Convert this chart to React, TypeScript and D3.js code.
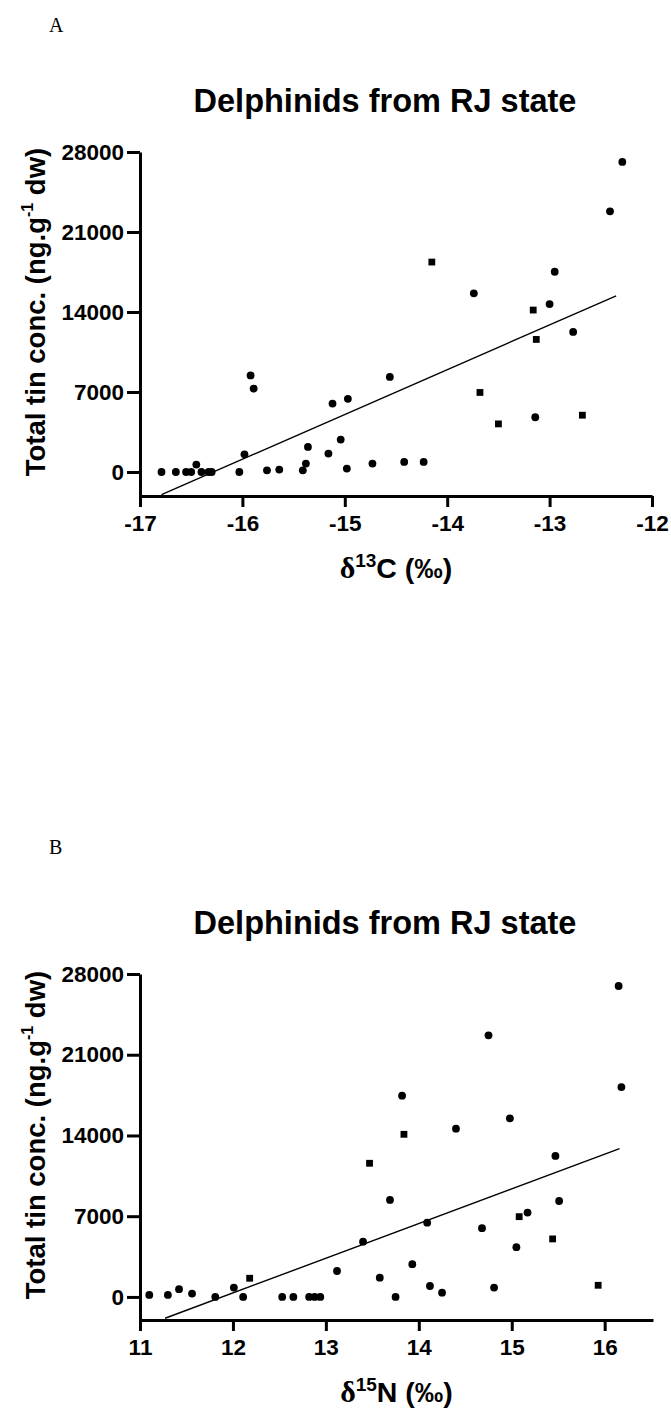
import { useEffect, useRef } from "react";
import * as d3 from "d3";

// text
const chartTitle = "Delphinids from RJ state";
const yAxisTitle = "Total tin conc. (ng.g";
const yTickValues = [0, 7000, 14000, 21000, 28000];
const carbonTickValues = [-17, -16, -15, -14, -13, -12];
const nitrogenTickValues = [11, 12, 13, 14, 15, 16];

// panel A : δ13C vs total tin (x, y)
const carbonCircles = [
  [-16.79, 0], [-16.65, 0], [-16.55, 0], [-16.5, 0], [-16.45, 650], [-16.4, 0],
  [-16.33, 0], [-16.3, 0], [-16.03, 0], [-15.98, 1550], [-15.92, 8450], [-15.89, 7300],
  [-15.76, 150], [-15.64, 210], [-15.41, 150], [-15.38, 740], [-15.36, 2190],
  [-15.16, 1610], [-15.12, 5990], [-15.04, 2840], [-14.98, 300], [-14.97, 6400],
  [-14.73, 740], [-14.56, 8320], [-14.42, 880], [-14.23, 880], [-13.74, 15630],
  [-13.14, 4790], [-13.0, 14690], [-12.95, 17520], [-12.77, 12260], [-12.41, 22810],
  [-12.29, 27130],
];
const carbonSquares = [
  [-14.15, 18370], [-13.68, 6960], [-13.5, 4210], [-13.16, 14170], [-13.13, 11600], [-12.68, 4970],
];
const carbonFit = [[-16.79, -1980], [-12.35, 15420]];

// panel B : δ15N vs total tin
const nitrogenCircles = [
  [11.1, 170], [11.3, 170], [11.42, 670], [11.56, 290], [11.81, 0], [12.01, 810],
  [12.11, 0], [12.53, 0], [12.65, 0], [12.82, 0], [12.88, 0], [12.94, 0],
  [13.12, 2250], [13.4, 4790], [13.58, 1670], [13.69, 8410], [13.75, 0], [13.82, 17450],
  [13.93, 2840], [14.09, 6440], [14.12, 950], [14.25, 370], [14.4, 14590], [14.68, 5960],
  [14.75, 22680], [14.81, 810], [14.98, 15490], [15.05, 4310], [15.17, 7310],
  [15.47, 12230], [15.51, 8320], [16.15, 26960], [16.18, 18200],
];
const nitrogenSquares = [
  [12.18, 1620], [13.47, 11590], [13.84, 14100], [15.08, 6960], [15.44, 5030], [15.93, 1010],
];
const nitrogenFit = [[11.27, -1850], [16.16, 12860]];

const FONT = "'Liberation Sans', Arial, sans-serif";

const ScatterPanel = ({ letter, circles, squares, fit, xTicks, xDomain, yDomain, box, isotope, element }) => {
  const gRef = useRef(null);

  useEffect(() => {
    if (!gRef.current) return;
    const g = d3.select(gRef.current);
    g.selectAll("*").remove();

    const x = d3.scaleLinear().domain(xDomain).range([box.left, box.right]);
    const y = d3.scaleLinear().domain(yDomain).range([box.bottom, box.top]);

    // panel letter
    g.append("text")
      .attr("x", 49)
      .attr("y", box.top - 120)
      .attr("font-family", "'Liberation Serif', 'Times New Roman', serif")
      .attr("font-size", 20)
      .text(letter);

    // title
    g.append("text")
      .attr("x", 385)
      .attr("y", box.top - 40)
      .attr("text-anchor", "middle")
      .attr("font-family", FONT)
      .attr("font-weight", "bold")
      .attr("font-size", 32.5)
      .text(chartTitle);

    // x axis
    const xAxis = g.append("g")
      .attr("transform", `translate(0, ${box.bottom})`)
      .call(d3.axisBottom(x).tickValues(xTicks).tickSize(11).tickSizeOuter(0).tickPadding(8).tickFormat(d => String(d)));

    // y axis
    const yAxis = g.append("g")
      .attr("transform", `translate(${box.left}, 0)`)
      .call(d3.axisLeft(y).tickValues(yTickValues).tickSize(13).tickSizeOuter(0).tickPadding(3).tickFormat(d => String(d)));

    [xAxis, yAxis].forEach(ax => {
      ax.attr("font-family", FONT).attr("font-size", 22.5).attr("font-weight", "bold");
      ax.selectAll("path, line").attr("stroke", "#000").attr("stroke-width", 3);
      ax.selectAll("text").attr("fill", "#000");
    });

    // x title  δ13C (‰)
    const xt = g.append("text")
      .attr("x", (box.left + box.right) / 2)
      .attr("y", box.bottom + 82)
      .attr("text-anchor", "middle")
      .attr("font-family", FONT)
      .attr("font-weight", "bold")
      .attr("font-size", 28.5);
    xt.append("tspan").attr("font-family", "'Liberation Serif', serif").attr("font-size", 30).text("δ");
    xt.append("tspan").attr("font-size", 19).attr("dy", -11).text(isotope);
    xt.append("tspan").attr("dy", 11).text(`${element} (‰)`);

    // y title
    const cy = (box.top + box.bottom) / 2 - 12;
    const yt = g.append("text")
      .attr("transform", `translate(45, ${cy}) rotate(-90)`)
      .attr("text-anchor", "middle")
      .attr("font-family", FONT)
      .attr("font-weight", "bold")
      .attr("font-size", 27.5);
    yt.append("tspan").text(yAxisTitle);
    yt.append("tspan").attr("font-size", 16).attr("dy", -12).text("-1");
    yt.append("tspan").attr("dy", 12).text(" dw)");

    // regression line
    g.append("path")
      .datum(fit)
      .attr("fill", "none")
      .attr("stroke", "#000")
      .attr("stroke-width", 1.4)
      .attr("d", d3.line().x(d => x(d[0])).y(d => y(d[1])));

    // points
    g.append("g")
      .selectAll("circle")
      .data(circles)
      .join("circle")
      .attr("cx", d => x(d[0]))
      .attr("cy", d => y(d[1]))
      .attr("r", 3.9)
      .attr("fill", "#000");

    g.append("g")
      .selectAll("rect")
      .data(squares)
      .join("rect")
      .attr("x", d => x(d[0]) - 3.4)
      .attr("y", d => y(d[1]) - 3.4)
      .attr("width", 6.8)
      .attr("height", 6.8)
      .attr("fill", "#000");
  }, [letter, circles, squares, fit, xTicks, xDomain, yDomain, box, isotope, element]);

  return <g ref={gRef} />;
};

export default function App() {
  return (
    <svg width={671} height={1408} style={{ position: "absolute", left: 0, top: 0, background: "#fff" }}>
      <rect width={671} height={1408} fill="#fff" />
      <ScatterPanel
        letter="A"
        circles={carbonCircles}
        squares={carbonSquares}
        fit={carbonFit}
        xTicks={carbonTickValues}
        xDomain={[-17, -12]}
        yDomain={[-2100, 28000]}
        box={{ left: 140, right: 652, top: 152, bottom: 496 }}
        isotope="13"
        element="C"
      />
      <ScatterPanel
        letter="B"
        circles={nitrogenCircles}
        squares={nitrogenSquares}
        fit={nitrogenFit}
        xTicks={nitrogenTickValues}
        xDomain={[11, 16.52]}
        yDomain={[-2000, 28000]}
        box={{ left: 140, right: 653, top: 974, bottom: 1320 }}
        isotope="15"
        element="N"
      />
    </svg>
  );
}
